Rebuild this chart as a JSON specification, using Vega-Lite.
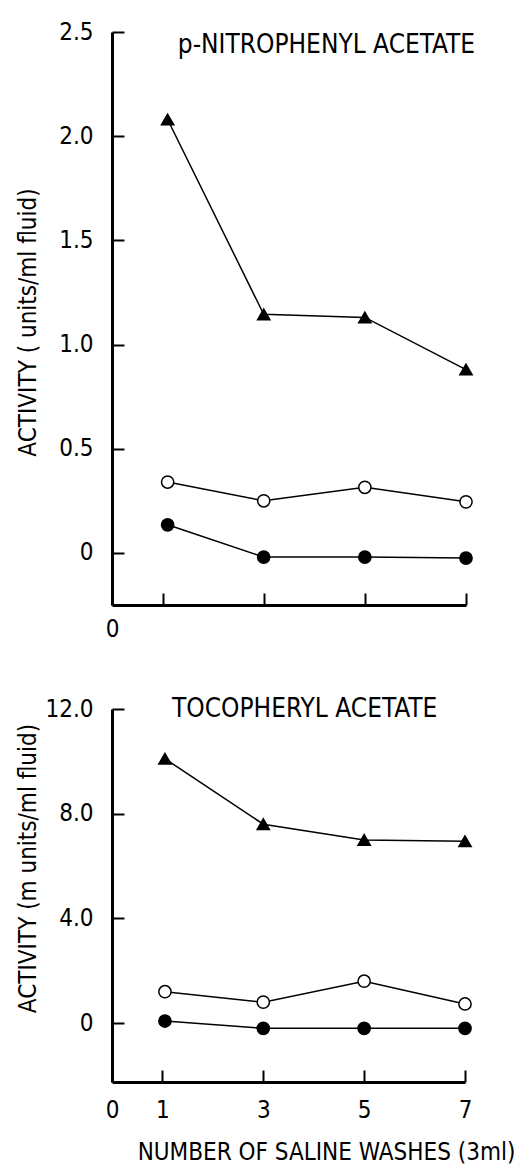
{
  "$schema": "https://vega.github.io/schema/vega-lite/v6.json",
  "background": "white",
  "padding": {"left": 16, "top": 20, "right": 0, "bottom": 0},
  "spacing": 55,
  "config": {
    "view": {"stroke": null},
    "font": "DejaVu Sans Condensed, Roboto Condensed, Roboto",
    "axis": {
      "grid": false,
      "domainColor": "black",
      "domainWidth": 3,
      "tickColor": "black",
      "tickWidth": 2,
      "tickSize": -12,
      "labelFont": "DejaVu Sans Condensed, Roboto Condensed, Roboto",
      "labelFontSize": 24,
      "labelColor": "black",
      "labelFlush": false,
      "titleFont": "DejaVu Sans Condensed, Roboto Condensed, Roboto",
      "titleFontSize": 24,
      "titleFontWeight": "normal",
      "titleColor": "black"
    }
  },
  "datasets": {
    "top": [
      {"wash": 1.1, "activity": 2.08, "series": "tri"},
      {"wash": 3, "activity": 1.145, "series": "tri"},
      {"wash": 5, "activity": 1.13, "series": "tri"},
      {"wash": 7, "activity": 0.88, "series": "tri"},
      {"wash": 1.1, "activity": 0.34, "series": "open"},
      {"wash": 3, "activity": 0.25, "series": "open"},
      {"wash": 5, "activity": 0.315, "series": "open"},
      {"wash": 7, "activity": 0.245, "series": "open"},
      {"wash": 1.1, "activity": 0.135, "series": "closed"},
      {"wash": 3, "activity": -0.02, "series": "closed"},
      {"wash": 5, "activity": -0.02, "series": "closed"},
      {"wash": 7, "activity": -0.025, "series": "closed"}
    ],
    "bottom": [
      {"wash": 1.05, "activity": 10.1, "series": "tri"},
      {"wash": 3, "activity": 7.6, "series": "tri"},
      {"wash": 5, "activity": 7.0, "series": "tri"},
      {"wash": 7, "activity": 6.95, "series": "tri"},
      {"wash": 1.05, "activity": 1.2, "series": "open"},
      {"wash": 3, "activity": 0.8, "series": "open"},
      {"wash": 5, "activity": 1.6, "series": "open"},
      {"wash": 7, "activity": 0.73, "series": "open"},
      {"wash": 1.05, "activity": 0.08, "series": "closed"},
      {"wash": 3, "activity": -0.2, "series": "closed"},
      {"wash": 5, "activity": -0.2, "series": "closed"},
      {"wash": 7, "activity": -0.2, "series": "closed"}
    ]
  },
  "vconcat": [
    {
      "width": 354,
      "height": 573,
      "layer": [
        {
          "data": {"name": "top"},
          "mark": {"type": "line", "color": "black", "strokeWidth": 1.5},
          "encoding": {
            "x": {"field": "wash", "type": "quantitative", "scale": {"domain": [0, 7], "nice": false, "zero": false},
                  "axis": {"values": [0, 1, 3, 5, 7], "labelExpr": "datum.value == 0 ? '0' : ''", "title": null, "labelPadding": 24}},
            "y": {"field": "activity", "type": "quantitative", "scale": {"domain": [-0.25, 2.5], "nice": false, "zero": false},
                  "axis": {"values": [0, 0.5, 1, 1.5, 2, 2.5], "labelExpr": "datum.value == 0 ? '0' : format(datum.value, '.1f')",
                           "title": "ACTIVITY (  units/ml fluid)", "titleX": -84, "titleY": 290, "titleBaseline": "middle", "labelPadding": 31}},
            "detail": {"field": "series"}
          }
        },
        {
          "data": {"name": "top"},
          "mark": {"type": "point", "filled": true, "stroke": "black", "strokeWidth": 1.5, "opacity": 1, "size": 150},
          "encoding": {
            "x": {"field": "wash", "type": "quantitative"},
            "y": {"field": "activity", "type": "quantitative"},
            "shape": {"field": "series", "scale": {"domain": ["tri", "open", "closed"], "range": ["triangle-up", "circle", "circle"]}, "legend": null},
            "fill": {"field": "series", "scale": {"domain": ["tri", "open", "closed"], "range": ["black", "white", "black"]}, "legend": null}
          }
        },
        {
          "data": {"values": [{"label": "p-NITROPHENYL ACETATE"}]},
          "mark": {"type": "text", "font": "DejaVu Sans Condensed, Roboto Condensed, Roboto", "fontSize": 26, "color": "black", "align": "center", "baseline": "middle"},
          "encoding": {
            "x": {"datum": 4.24, "type": "quantitative"},
            "y": {"datum": 2.44, "type": "quantitative"},
            "text": {"field": "label"}
          }
        }
      ]
    },
    {
      "width": 353,
      "height": 373,
      "layer": [
        {
          "data": {"name": "bottom"},
          "mark": {"type": "line", "color": "black", "strokeWidth": 1.5},
          "encoding": {
            "x": {"field": "wash", "type": "quantitative", "scale": {"domain": [0, 7], "nice": false, "zero": false},
                  "axis": {"values": [0, 1, 3, 5, 7], "title": "NUMBER OF SALINE WASHES (3ml)", "labelPadding": 28,
                           "titleX": 214, "titleY": 70, "titleAlign": "center", "titleBaseline": "middle", "titleFontSize": 24}},
            "y": {"field": "activity", "type": "quantitative", "scale": {"domain": [-2.25, 12], "nice": false, "zero": false},
                  "axis": {"values": [0, 4, 8, 12], "labelExpr": "datum.value == 0 ? '0' : format(datum.value, '.1f')",
                           "title": "ACTIVITY (m units/ml fluid)", "titleX": -84, "titleY": 159, "titleBaseline": "middle", "labelPadding": 31}},
            "detail": {"field": "series"}
          }
        },
        {
          "data": {"name": "bottom"},
          "mark": {"type": "point", "filled": true, "stroke": "black", "strokeWidth": 1.5, "opacity": 1, "size": 150},
          "encoding": {
            "x": {"field": "wash", "type": "quantitative"},
            "y": {"field": "activity", "type": "quantitative"},
            "shape": {"field": "series", "scale": {"domain": ["tri", "open", "closed"], "range": ["triangle-up", "circle", "circle"]}, "legend": null},
            "fill": {"field": "series", "scale": {"domain": ["tri", "open", "closed"], "range": ["black", "white", "black"]}, "legend": null}
          }
        },
        {
          "data": {"values": [{"label": "TOCOPHERYL ACETATE"}]},
          "mark": {"type": "text", "font": "DejaVu Sans Condensed, Roboto Condensed, Roboto", "fontSize": 26, "color": "black", "align": "center", "baseline": "middle"},
          "encoding": {
            "x": {"datum": 3.82, "type": "quantitative"},
            "y": {"datum": 12.0, "type": "quantitative"},
            "text": {"field": "label"}
          }
        }
      ]
    }
  ]
}
